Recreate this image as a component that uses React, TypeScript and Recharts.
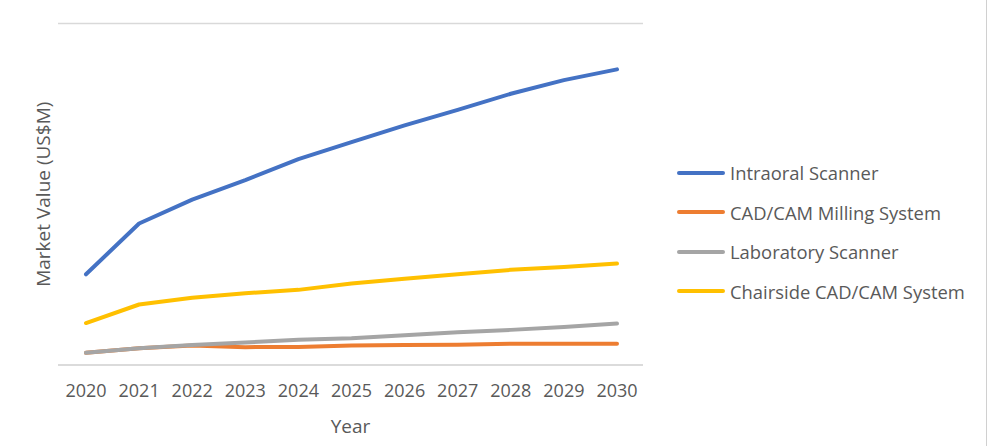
import React from "react";
import { LineChart, Line, XAxis, YAxis, CartesianGrid, Legend } from "recharts";

const years = ["2020", "2021", "2022", "2023", "2024", "2025", "2026", "2027", "2028", "2029", "2030"];
const intraoralScanner = [930, 1450, 1695, 1895, 2110, 2285, 2455, 2615, 2780, 2920, 3030];
const cadCamMilling = [125, 172, 200, 183, 185, 200, 205, 208, 218, 218, 218];
const laboratoryScanner = [125, 172, 205, 230, 260, 275, 305, 335, 360, 390, 425];
const chairsideCadCam = [430, 620, 690, 735, 770, 835, 885, 930, 975, 1005, 1040];
const yTicks = [0, 500, 1000, 1500, 2000, 2500, 3000, 3500];

const seriesNames = ["Intraoral Scanner", "CAD/CAM Milling System", "Laboratory Scanner", "Chairside CAD/CAM System"];
const seriesColors = ["#4472C4", "#ED7D31", "#A5A5A5", "#FFC000"];
const seriesKeys = ["intraoral", "milling", "lab", "chairside"];
const seriesValues = [intraoralScanner, cadCamMilling, laboratoryScanner, chairsideCadCam];

const data = years.map((year, i) => {
  const row: Record<string, string | number> = { year };
  seriesKeys.forEach((k, s) => {
    row[k] = seriesValues[s][i];
  });
  return row;
});

const FONT = "'Open Sans', 'Noto Sans', sans-serif";
const TEXT = "#595959";

const renderLegend = () => (
  <div style={{ fontFamily: FONT }}>
    {seriesNames.map((name, i) => (
      <div key={name} style={{ display: "flex", alignItems: "center", height: 39.5 }}>
        <div style={{ width: 48, height: 4, borderRadius: 2, background: seriesColors[i], marginRight: 5 }} />
        <span style={{ fontSize: 18.4, color: TEXT, whiteSpace: "nowrap" }}>{name}</span>
      </div>
    ))}
  </div>
);

export default function App() {
  return (
    <div style={{ position: "absolute", left: 0, top: 0, width: 988, height: 446, background: "#fff", fontFamily: FONT }}>
      <LineChart width={988} height={446} data={data} margin={{ top: 23.5, right: 345, bottom: 0, left: 0 }}>
        <CartesianGrid vertical={false} stroke="#D9D9D9" strokeWidth={1.3} />
        <XAxis
          dataKey="year"
          axisLine={{ stroke: "#D9D9D9", strokeWidth: 1.3 }}
          tickLine={false}
          tickSize={0}
          tickMargin={19}
          height={81}
          padding={{ left: 28, right: 26 }}
          tick={{ fill: TEXT, fontSize: 18, fontFamily: FONT }}
          label={{ value: "Year", position: "insideBottom", offset: 13, fill: TEXT, fontSize: 19, fontFamily: FONT }}
        />
        <YAxis
          domain={[0, 3500]}
          ticks={yTicks}
          width={58}
          axisLine={false}
          tickLine={false}
          tick={false}
          label={{
            value: "Market Value (US$M)",
            angle: -90,
            position: "insideLeft",
            offset: 43,
            fill: TEXT,
            fontSize: 19,
            fontFamily: FONT,
            style: { textAnchor: "middle" },
          }}
        />
        <Legend
          layout="vertical"
          align="center"
          verticalAlign="middle"
          content={renderLegend}
          wrapperStyle={{ left: 677, top: 153, width: 300, height: 160 }}
        />
        {seriesKeys.map((k, i) => (
          <Line
            key={k}
            type="linear"
            dataKey={k}
            name={seriesNames[i]}
            stroke={seriesColors[i]}
            strokeWidth={4}
            strokeLinecap="round"
            strokeLinejoin="round"
            dot={false}
            activeDot={false}
            isAnimationActive={false}
          />
        ))}
      </LineChart>
      <div style={{ position: "absolute", left: 986, top: 0, width: 1, height: 446, background: "#D0D0D0" }} />
    </div>
  );
}
